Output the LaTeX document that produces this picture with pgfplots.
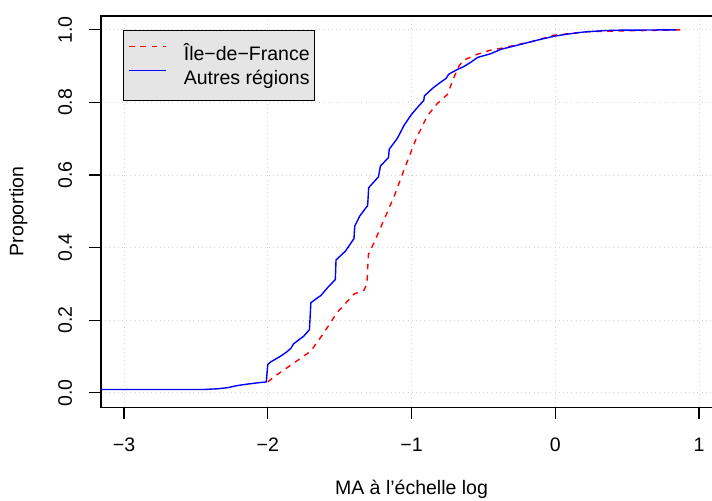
\documentclass[border=0pt]{standalone}
\usepackage{fontspec}
\setmainfont{Liberation Sans}
\usepackage{pgfplots}
\pgfplotsset{compat=1.18}
\definecolor{rgrid}{HTML}{D3D3D3}
\definecolor{rlegbg}{HTML}{E5E5E5}
\begin{document}
\begin{tikzpicture}[font=\fontsize{9.75}{11.7}\selectfont]
\path[use as bounding box] (-50.5pt,-46.35pt) rectangle (305.5pt,203.65pt);
\begin{axis}[
  at={(0,0)}, anchor=south west,
  scale only axis, width=310.5pt, height=196pt,
  xmin=-3.16, xmax=1.16, ymin=-0.04, ymax=1.04,
  axis lines=box,
  xtick pos=bottom, ytick pos=left,
  xtick={-3,-2,-1,0,1},
  xticklabels={−3,−2,−1,0,1},
  ytick={0,0.2,0.4,0.6,0.8,1.0},
  yticklabels={0.0,0.2,0.4,0.6,0.8,1.0},
  /pgf/number format/assume math mode=true,
  tick align=outside, major tick length=6pt,
  tick style={black, line width=0.6pt},
  axis line style={black, line width=0.75pt},
  grid=major,
  major grid style={rgrid, line width=0.5pt, dash pattern=on 0.5pt off 1.6pt},
  xticklabel style={anchor=base, yshift=-15.85pt, font=\fontsize{9.75}{11.7}\selectfont},
  yticklabel style={anchor=center, xshift=-11.9pt, rotate=90, font=\fontsize{9.75}{11.7}\selectfont},
  xlabel={MA à l’échelle log},
  ylabel={Proportion},
  xlabel style={at={(axis description cs:0.5,-0.2237)}, anchor=base, font=\fontsize{9.75}{11.7}\selectfont},
  ylabel style={at={(axis description cs:-0.1332,0.5)}, anchor=center, font=\fontsize{9.75}{11.7}\selectfont},
  legend cell align=left,
  legend style={at={(axis description cs:0.0354,0.9625)}, anchor=north west,
    fill=rlegbg, draw=black, line width=0.5pt,
    inner xsep=2.5pt, inner ysep=6.5pt, row sep=2pt, column sep=8.5pt,
    font=\fontsize{9.75}{11.7}\selectfont,
    nodes={inner sep=0pt, text height=8.5pt, text depth=1.5pt}},
  legend image code/.code={\draw[#1] (0pt,3.5pt) -- (18.5pt,3.5pt);},
  extra description/.code={\draw[black, line width=1.2pt] (axis description cs:0,0.998) -- (axis description cs:1,0.998);},
]
\addplot[red, line width=0.7pt, dash pattern=on 2.8pt off 2.8pt] coordinates {
(-2.00,0.030) (-1.935,0.050) (-1.84,0.076) (-1.70,0.115) (-1.61,0.165)
(-1.52,0.220) (-1.40,0.272) (-1.33,0.283) (-1.31,0.300) (-1.30,0.381)
(-1.26,0.414) (-1.19,0.478) (-1.12,0.542) (-1.05,0.616) (-0.97,0.698)
(-0.89,0.763) (-0.82,0.797) (-0.75,0.822) (-0.71,0.864) (-0.67,0.900)
(-0.64,0.916) (-0.54,0.933) (-0.45,0.944) (-0.39,0.948) (-0.15,0.969)
(-0.01,0.985) (0.22,0.995) (0.87,1.000)
};
\addlegendentry{Île−de−France}
\addplot[blue, line width=0.7pt] coordinates {
(-3.20,0.009) (-2.45,0.009) (-2.35,0.011) (-2.28,0.014) (-2.21,0.020)
(-2.14,0.024) (-2.08,0.027) (-2.01,0.030) (-2.00,0.078) (-1.98,0.085)
(-1.91,0.101) (-1.87,0.112) (-1.84,0.122) (-1.82,0.135) (-1.78,0.147)
(-1.75,0.156) (-1.71,0.174) (-1.70,0.248) (-1.66,0.260) (-1.63,0.268)
(-1.59,0.287) (-1.53,0.312) (-1.525,0.366) (-1.46,0.390) (-1.40,0.425)
(-1.395,0.459) (-1.36,0.487) (-1.305,0.516) (-1.298,0.565) (-1.23,0.595)
(-1.216,0.625) (-1.16,0.648) (-1.155,0.671) (-1.10,0.700) (-1.05,0.738)
(-1.00,0.767) (-0.95,0.790) (-0.915,0.805) (-0.91,0.818) (-0.85,0.840)
(-0.80,0.855) (-0.76,0.866) (-0.74,0.878) (-0.68,0.891) (-0.64,0.898)
(-0.59,0.910) (-0.54,0.924) (-0.45,0.934) (-0.38,0.946) (-0.28,0.956)
(-0.19,0.965) (-0.10,0.974) (0.00,0.983) (0.10,0.989) (0.20,0.994)
(0.35,0.998) (0.45,0.999) (0.84,1.000)
};
\addlegendentry{Autres régions}
\end{axis}
\end{tikzpicture}
\end{document}
